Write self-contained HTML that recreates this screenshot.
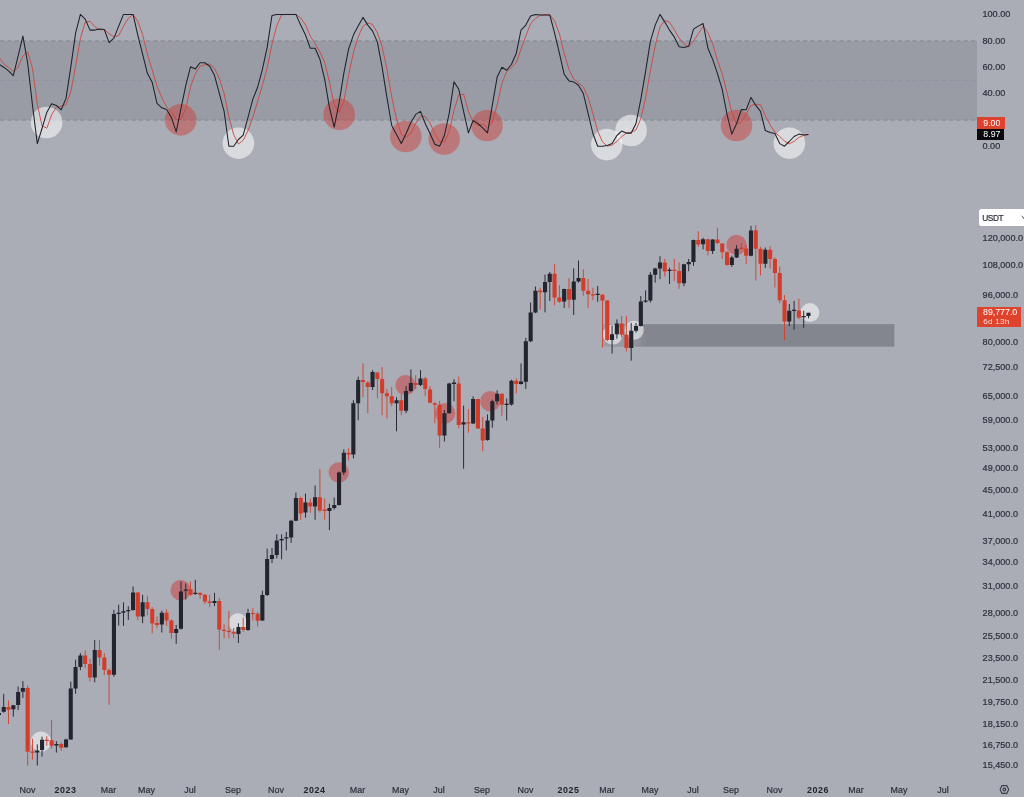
<!DOCTYPE html>
<html><head><meta charset="utf-8"><title>BTC chart</title>
<style>
html,body{margin:0;padding:0;background:#aaadb6;}
body{width:1024px;height:797px;overflow:hidden;position:relative;font-family:"Liberation Sans",sans-serif;}
svg{position:absolute;left:0;top:0;filter:blur(0.35px);}
.l{position:absolute;font-size:9.1px;-webkit-text-stroke:0.2px #2d3039;line-height:10px;height:10px;color:#2d3039;white-space:nowrap;}
.t{position:absolute;font-size:8.9px;-webkit-text-stroke:0.2px #2d3039;line-height:10px;height:10px;color:#2d3039;white-space:nowrap;transform:translateX(-50%);top:785px;}
.t b{font-weight:bold;color:#23252d;letter-spacing:0.55px;-webkit-text-stroke:0;}
.tag{position:absolute;color:#fff;font-size:8.8px;line-height:10px;white-space:nowrap;}
</style></head><body>
<div style="position:absolute;left:979.1px;top:208.8px;width:60px;height:17px;background:#fff;border-radius:2.5px;"></div>
<svg width="1024" height="797" viewBox="0 0 1024 797">

<rect x="0" y="41" width="977" height="79" fill="#999ca5"/>
<path d="M0 41H977M0 120H977" stroke="#8b8e98" stroke-width="1.3" stroke-dasharray="4.3 3" fill="none"/>
<path d="M0 80.4H977" stroke="#8b8e98" stroke-width="0.8" stroke-dasharray="4.3 3" fill="none" opacity="0.7"/>
<rect x="602.5" y="324.1" width="291.9" height="22.6" fill="#83868f"/>
<defs><linearGradient id="lg" x1="0" x2="1" y1="0" y2="0"><stop offset="0" stop-color="#fff" stop-opacity="0.2"/><stop offset="0.7" stop-color="#fff" stop-opacity="0.14"/><stop offset="1" stop-color="#fff" stop-opacity="0"/></linearGradient></defs><rect x="602.5" y="324.1" width="44" height="22.6" fill="url(#lg)"/>
<circle cx="46.6" cy="122.5" r="15.8" fill="rgba(255,255,255,0.55)"/>
<circle cx="238.4" cy="143.2" r="15.8" fill="rgba(255,255,255,0.55)"/>
<circle cx="606.8" cy="144.6" r="15.8" fill="rgba(255,255,255,0.55)"/>
<circle cx="631.1" cy="130.5" r="15.8" fill="rgba(255,255,255,0.55)"/>
<circle cx="789.4" cy="143.2" r="15.8" fill="rgba(255,255,255,0.55)"/>
<circle cx="180.7" cy="119.9" r="15.8" fill="rgba(208,58,55,0.46)"/>
<circle cx="339.2" cy="114.4" r="15.8" fill="rgba(208,58,55,0.46)"/>
<circle cx="405.8" cy="136.5" r="15.8" fill="rgba(208,58,55,0.46)"/>
<circle cx="444.2" cy="139.1" r="15.8" fill="rgba(208,58,55,0.46)"/>
<circle cx="487.1" cy="125.5" r="15.8" fill="rgba(208,58,55,0.46)"/>
<circle cx="736.5" cy="125.5" r="15.8" fill="rgba(208,58,55,0.46)"/>
<circle cx="41" cy="741.6" r="10.2" fill="rgba(255,255,255,0.55)"/>
<circle cx="237.8" cy="622.5" r="9.2" fill="rgba(255,255,255,0.55)"/>
<circle cx="612.8" cy="334.6" r="10" fill="rgba(255,255,255,0.55)"/>
<circle cx="634.2" cy="330.2" r="9.5" fill="rgba(255,255,255,0.55)"/>
<circle cx="809.9" cy="312.6" r="9.5" fill="rgba(255,255,255,0.55)"/>
<circle cx="180.6" cy="590.2" r="10.2" fill="rgba(208,52,50,0.47)"/>
<circle cx="338.8" cy="472.5" r="10.2" fill="rgba(208,52,50,0.47)"/>
<circle cx="405.5" cy="385.1" r="10.2" fill="rgba(208,52,50,0.47)"/>
<circle cx="445.2" cy="413.2" r="10.2" fill="rgba(208,52,50,0.47)"/>
<circle cx="490.3" cy="401.2" r="10.2" fill="rgba(208,52,50,0.47)"/>
<circle cx="736.5" cy="244.9" r="10.2" fill="rgba(208,52,50,0.47)"/>
<polyline points="-10.6,48.0 -5.8,54.0 -1.1,57.4 3.7,63.8 8.5,67.4 13.3,71.3 18.1,67.6 22.9,56.0 27.7,51.9 32.5,68.3 37.3,104.1 42.0,125.8 46.8,128.2 51.6,114.9 56.4,107.2 61.2,106.3 66.0,104.5 70.8,91.8 75.6,66.2 80.4,38.3 85.2,22.2 90.0,21.2 94.7,26.4 99.5,29.8 104.3,29.6 109.1,33.7 113.9,36.7 118.7,35.6 123.5,26.2 128.3,18.3 133.1,14.4 137.8,21.3 142.6,34.6 147.4,54.2 152.2,69.9 157.0,86.3 161.8,97.8 166.6,106.9 171.4,111.6 176.2,119.6 181.0,119.3 185.8,108.5 190.5,86.9 195.3,73.7 200.1,66.2 204.9,64.8 209.7,64.0 214.5,68.1 219.3,78.3 224.1,93.4 228.9,117.0 233.7,134.6 238.4,144.0 243.2,140.3 248.0,130.7 252.8,117.3 257.6,101.4 262.4,85.3 267.2,67.9 272.0,44.0 276.8,25.7 281.6,14.8 286.3,14.4 291.1,14.4 295.9,14.4 300.7,18.0 305.5,24.9 310.3,36.1 315.1,43.8 319.9,51.9 324.7,62.2 329.4,82.0 334.2,104.6 339.0,112.6 343.8,101.3 348.6,75.3 353.4,52.5 358.2,36.8 363.0,26.2 367.8,22.9 372.6,24.5 377.4,32.8 382.1,46.8 386.9,68.9 391.7,96.7 396.5,119.1 401.3,134.5 406.1,137.2 410.9,133.2 415.7,123.5 420.5,116.1 425.2,116.4 430.0,122.8 434.8,133.7 439.6,141.3 444.4,141.9 449.2,131.7 454.0,110.3 458.8,94.9 463.6,94.2 468.4,111.2 473.1,121.6 477.9,125.6 482.7,123.9 487.5,128.1 492.3,122.1 497.1,105.2 501.9,83.3 506.7,71.6 511.5,67.2 516.3,62.6 521.0,49.2 525.8,36.1 530.6,23.7 535.4,18.5 540.2,15.2 545.0,14.8 549.8,15.0 554.6,21.1 559.4,33.8 564.2,53.5 569.0,69.5 573.7,79.0 578.5,82.7 583.3,86.9 588.1,97.4 592.9,113.4 597.7,131.0 602.5,141.9 607.3,146.0 612.1,145.1 616.9,141.5 621.6,136.7 626.4,133.2 631.2,132.4 636.0,129.9 640.8,118.7 645.6,98.0 650.4,70.6 655.2,45.8 660.0,26.9 664.8,20.5 669.5,22.2 674.3,29.8 679.1,38.0 683.9,43.8 688.7,46.8 693.5,40.9 698.3,33.8 703.1,26.2 707.9,32.6 712.6,43.6 717.4,60.2 722.2,73.9 727.0,92.3 731.8,112.6 736.6,124.0 741.4,122.3 746.2,114.2 751.0,105.5 755.8,104.2 760.5,104.7 765.3,115.8 770.1,124.8 774.9,132.2 779.7,136.5 784.5,141.1 789.3,143.8 794.1,141.4 798.9,137.4 803.7,135.3 808.5,134.6" fill="none" stroke="#cc463c" stroke-width="0.9" stroke-linejoin="round"/>
<polyline points="-10.6,48.0 -5.8,60.0 -1.1,64.2 3.7,67.2 8.5,70.9 13.3,75.7 18.1,56.2 22.9,36.1 27.7,63.2 32.5,105.4 37.3,143.6 42.0,128.5 46.8,112.4 51.6,103.8 56.4,105.4 61.2,109.8 66.0,98.4 70.8,67.2 75.6,33.1 80.4,14.4 85.2,19.1 90.0,30.1 94.7,30.1 99.5,29.1 104.3,29.5 109.1,42.6 113.9,38.1 118.7,26.1 123.5,14.4 128.3,14.4 133.1,14.4 137.8,35.1 142.6,54.2 147.4,73.3 152.2,82.3 157.0,103.4 161.8,107.8 166.6,109.4 171.4,117.4 176.2,131.9 181.0,108.4 185.8,85.3 190.5,66.8 195.3,68.9 200.1,62.8 204.9,62.8 209.7,66.2 214.5,75.3 219.3,93.4 224.1,111.4 228.9,146.2 233.7,146.2 238.4,139.5 243.2,135.1 248.0,117.4 252.8,99.4 257.6,87.3 262.4,69.3 267.2,47.2 272.0,15.4 276.8,14.4 281.6,14.4 286.3,14.4 291.1,14.4 295.9,14.4 300.7,25.1 305.5,35.1 310.3,48.2 315.1,48.2 319.9,59.2 324.7,79.3 329.4,107.4 334.2,127.1 339.0,103.4 343.8,73.3 348.6,49.2 353.4,35.1 358.2,26.1 363.0,17.4 367.8,25.1 372.6,31.1 377.4,42.1 382.1,67.2 386.9,97.4 391.7,125.5 396.5,134.5 401.3,143.6 406.1,133.5 410.9,122.5 415.7,114.4 420.5,111.4 425.2,123.5 430.0,133.5 434.8,144.2 439.6,146.2 444.4,135.5 449.2,113.4 454.0,81.9 458.8,89.3 463.6,111.4 468.4,132.9 473.1,120.5 477.9,123.5 482.7,127.9 487.5,132.9 492.3,105.4 497.1,77.3 501.9,67.2 506.7,70.3 511.5,64.2 516.3,53.2 521.0,30.1 525.8,25.1 530.6,16.0 535.4,14.4 540.2,15.0 545.0,15.0 549.8,15.0 554.6,33.1 559.4,53.2 564.2,74.3 569.0,80.9 573.7,81.9 578.5,85.3 583.3,93.4 588.1,113.4 592.9,133.5 597.7,146.2 602.5,146.2 607.3,145.6 612.1,143.6 616.9,135.5 621.6,131.1 626.4,133.1 631.2,133.1 636.0,123.5 640.8,99.4 645.6,71.3 650.4,41.1 655.2,25.1 660.0,14.4 664.8,22.1 669.5,30.1 674.3,37.1 679.1,46.8 683.9,47.6 688.7,46.2 693.5,29.1 698.3,26.1 703.1,23.5 707.9,48.2 712.6,59.2 717.4,73.3 722.2,89.3 727.0,114.4 731.8,134.1 736.6,123.5 741.4,109.4 746.2,109.8 751.0,97.4 755.8,105.4 760.5,111.4 765.3,130.5 770.1,132.5 774.9,133.5 779.7,143.6 784.5,146.2 789.3,141.5 794.1,136.5 798.9,134.1 803.7,135.1 808.5,134.5" fill="none" stroke="#1f2129" stroke-width="1.05" stroke-linejoin="round"/>
<path d="M8.5 700.4V724.0M27.7 685.7V765.6M32.5 738.7V759.6M46.8 736.2V745.7M51.6 719.9V748.5M61.2 742.4V750.9M85.2 650.3V668.2M90.0 658.8V681.4M99.5 640.0V665.4M104.3 653.2V675.2M109.1 668.2V704.9M137.8 592.0V620.2M147.4 595.8V615.5M152.2 607.1V633.4M157.0 616.5V627.8M166.6 609.3V625.9M171.4 619.3V638.7M190.5 581.6V595.8M200.1 592.0V598.6M204.9 593.9V604.2M209.7 594.8V607.1M219.3 597.9V649.6M224.1 624.2V638.3M228.9 611.0V638.3M233.7 628.0V638.3M243.2 617.6V631.8M252.8 608.2V620.5M257.6 612.0V626.5M300.7 496.6V519.7M310.3 498.6V512.6M319.9 469.1V512.6M324.7 498.6V519.7M348.6 448.4V460.4M363.0 363.4V397.2M367.8 381.1V413.2M377.4 372.1V398.2M382.1 367.0V415.2M386.9 389.1V418.3M391.7 387.1V406.2M401.3 394.2V415.2M415.7 375.1V389.1M425.2 377.1V396.2M430.0 386.1V403.2M434.8 402.2V423.3M439.6 400.9V447.8M458.8 376.6V428.4M468.4 409.1V432.8M477.9 398.6V429.0M482.7 417.0V451.3M501.9 393.3V416.1M516.3 378.4V393.3M540.2 287.8V309.7M554.6 264.1V305.3M559.4 285.1V302.7M569.0 278.1V308.0M583.3 269.3V295.7M588.1 279.0V308.0M592.9 287.8V300.1M602.5 293.9V347.5M607.3 300.1V341.3M621.6 315.9V337.8M626.4 315.9V351.5M664.8 258.9V276.5M674.3 258.9V280.9M679.1 262.4V288.8M698.3 231.2V247.0M707.9 238.7V255.4M717.4 227.6V244.0M722.2 243.1V258.9M727.0 251.0V265.9M741.4 243.1V249.3M746.2 244.9V264.2M755.8 225.0V280.7M760.5 246.8V275.4M770.1 246.1V268.7M774.9 257.4V287.5M779.7 266.4V303.3M784.5 295.0V340.2M798.9 298.8V319.1" stroke="#d23d2b" stroke-width="0.9" fill="none"/>
<path d="M-1.1 711.8V715.9M3.7 693.8V712.6M13.3 704.9V716.7M18.1 686.5V710.1M22.9 681.1V697.9M37.3 744.4V765.6M42.0 736.7V756.6M56.4 741.1V752.6M66.0 738.7V747.7M70.8 681.6V739.8M75.6 659.6V693.8M80.4 653.1V670.2M94.7 640.0V682.3M113.9 609.9V676.7M118.7 604.8V625.5M123.5 602.3V625.9M128.3 606.1V619.9M133.1 586.4V610.8M142.6 594.8V623.1M161.8 610.8V632.5M176.2 624.9V643.8M181.0 581.6V629.6M185.8 583.5V599.5M195.3 579.8V594.8M214.5 592.9V606.1M238.4 623.3V643.0M248.0 608.8V630.8M262.4 590.7V620.8M267.2 548.6V596.0M272.0 548.0V563.1M276.8 534.3V558.3M281.6 534.3V559.3M286.3 532.0V550.4M291.1 519.8V542.9M295.9 492.5V521.1M305.5 493.6V517.7M315.1 485.5V519.7M329.4 503.6V530.1M334.2 497.6V509.6M339.0 471.5V505.6M343.8 449.4V475.1M353.4 400.2V458.4M358.2 376.7V420.3M372.6 370.1V390.1M396.5 397.2V431.3M406.1 386.1V413.2M410.9 369.5V392.1M420.5 370.1V386.1M444.4 410.0V441.6M449.2 382.8V413.5M454.0 379.3V401.2M463.6 405.6V468.8M473.1 396.3V424.0M487.5 414.4V440.7M492.3 399.8V427.6M497.1 390.3V404.7M506.7 398.6V420.5M511.5 379.8V405.6M521.0 363.4V384.5M525.8 337.8V388.8M530.6 302.7V342.2M535.4 286.5V313.2M545.0 274.6V312.4M549.8 272.0V300.9M564.2 288.6V308.0M573.7 268.4V315.0M578.5 260.5V282.5M597.7 286.0V301.8M612.1 325.5V353.6M616.9 319.4V338.7M631.2 322.9V360.7M636.0 322.9V332.6M640.8 296.0V326.4M645.6 290.4V302.7M650.4 272.1V302.5M655.2 267.7V282.6M660.0 256.3V279.1M669.5 267.7V283.9M683.9 263.8V286.1M688.7 258.9V271.2M693.5 239.6V265.9M703.1 237.8V249.3M712.6 239.2V254.0M731.8 255.8V266.8M736.6 245.2V258.0M751.0 225.9V256.3M765.3 247.6V267.9M789.3 304.0V326.2M794.1 301.0V329.6M803.7 310.8V327.8M808.5 312.8V318.3" stroke="#22242e" stroke-width="0.95" fill="none"/>
<path d="M6.5 706.9h4.1V709.8h-4.1zM25.6 688.1h4.1V751.7h-4.1zM30.4 751.6h4.1V752.8h-4.1zM44.8 739.7h4.1V740.9h-4.1zM49.6 740.3h4.1V745.7h-4.1zM59.2 743.9h4.1V747.7h-4.1zM83.1 655.6h4.1V663.9h-4.1zM87.9 663.9h4.1V677.6h-4.1zM97.5 650.0h4.1V657.5h-4.1zM102.3 657.5h4.1V670.1h-4.1zM107.1 670.1h4.1V674.8h-4.1zM135.8 592.4h4.1V616.5h-4.1zM145.4 602.3h4.1V608.9h-4.1zM150.2 608.9h4.1V623.6h-4.1zM155.0 623.1h4.1V624.9h-4.1zM164.5 612.7h4.1V620.6h-4.1zM169.3 620.6h4.1V633.0h-4.1zM188.5 589.2h4.1V594.8h-4.1zM198.1 592.9h4.1V594.8h-4.1zM202.9 594.8h4.1V601.4h-4.1zM207.6 601.4h4.1V602.9h-4.1zM217.2 601.1h4.1V629.5h-4.1zM222.0 629.8h4.1V631.0h-4.1zM226.8 630.8h4.1V632.1h-4.1zM231.6 632.1h4.1V633.6h-4.1zM241.2 627.0h4.1V629.9h-4.1zM250.8 612.9h4.1V614.1h-4.1zM255.6 613.7h4.1V620.8h-4.1zM298.7 498.0h4.1V513.6h-4.1zM308.2 502.6h4.1V506.6h-4.1zM317.8 497.2h4.1V510.6h-4.1zM322.6 509.6h4.1V511.0h-4.1zM346.6 452.8h4.1V454.4h-4.1zM360.9 380.1h4.1V382.1h-4.1zM365.7 382.5h4.1V387.1h-4.1zM375.3 372.5h4.1V379.1h-4.1zM380.1 379.1h4.1V393.2h-4.1zM384.9 393.2h4.1V396.2h-4.1zM389.7 396.2h4.1V403.2h-4.1zM399.2 400.2h4.1V410.8h-4.1zM413.6 383.1h4.1V385.1h-4.1zM423.2 378.5h4.1V389.1h-4.1zM428.0 389.5h4.1V402.8h-4.1zM432.8 403.2h4.1V404.8h-4.1zM437.6 404.7h4.1V435.5h-4.1zM456.7 383.6h4.1V424.9h-4.1zM466.3 422.3h4.1V423.5h-4.1zM475.9 399.1h4.1V428.4h-4.1zM480.7 428.4h4.1V440.4h-4.1zM499.8 393.8h4.1V404.7h-4.1zM514.2 380.7h4.1V384.0h-4.1zM538.2 290.4h4.1V292.2h-4.1zM552.5 273.7h4.1V297.4h-4.1zM557.3 297.4h4.1V301.8h-4.1zM566.9 289.0h4.1V299.7h-4.1zM581.3 278.1h4.1V290.8h-4.1zM586.1 290.8h4.1V294.3h-4.1zM590.9 294.2h4.1V295.4h-4.1zM600.4 294.8h4.1V300.4h-4.1zM605.2 300.4h4.1V340.1h-4.1zM619.6 323.4h4.1V334.8h-4.1zM624.4 334.8h4.1V348.0h-4.1zM662.7 262.4h4.1V271.6h-4.1zM672.3 269.7h4.1V270.9h-4.1zM677.1 270.9h4.1V283.2h-4.1zM696.2 239.9h4.1V244.5h-4.1zM705.8 239.2h4.1V251.0h-4.1zM715.4 239.6h4.1V243.1h-4.1zM720.2 243.5h4.1V252.2h-4.1zM725.0 252.2h4.1V265.1h-4.1zM739.3 247.8h4.1V249.0h-4.1zM744.1 248.4h4.1V255.8h-4.1zM753.7 230.3h4.1V248.8h-4.1zM758.5 248.8h4.1V263.8h-4.1zM768.1 249.8h4.1V258.9h-4.1zM772.9 258.9h4.1V272.9h-4.1zM777.7 272.9h4.1V300.3h-4.1zM782.5 300.3h4.1V321.4h-4.1zM796.8 310.4h4.1V317.6h-4.1z" fill="#d23d2b"/>
<path d="M-3.1 713.1h4.1V715.0h-4.1zM1.7 706.9h4.1V711.8h-4.1zM11.3 705.3h4.1V709.3h-4.1zM16.1 691.9h4.1V704.9h-4.1zM20.8 688.1h4.1V691.7h-4.1zM35.2 750.4h4.1V752.6h-4.1zM40.0 739.8h4.1V750.1h-4.1zM54.4 743.9h4.1V745.4h-4.1zM64.0 739.5h4.1V747.3h-4.1zM68.7 688.5h4.1V739.5h-4.1zM73.5 666.9h4.1V688.5h-4.1zM78.3 655.5h4.1V666.9h-4.1zM92.7 650.0h4.1V677.6h-4.1zM111.9 614.0h4.1V674.8h-4.1zM116.6 612.7h4.1V614.0h-4.1zM121.4 611.2h4.1V612.7h-4.1zM126.2 609.9h4.1V611.2h-4.1zM131.0 592.4h4.1V609.9h-4.1zM140.6 602.3h4.1V616.5h-4.1zM159.8 612.7h4.1V624.6h-4.1zM174.1 629.1h4.1V633.0h-4.1zM178.9 591.4h4.1V628.7h-4.1zM183.7 589.6h4.1V590.8h-4.1zM193.3 592.8h4.1V594.0h-4.1zM212.4 601.0h4.1V602.9h-4.1zM236.4 627.0h4.1V634.0h-4.1zM246.0 612.9h4.1V629.9h-4.1zM260.3 595.0h4.1V620.5h-4.1zM265.1 558.9h4.1V595.0h-4.1zM269.9 555.1h4.1V558.9h-4.1zM274.7 540.5h4.1V555.1h-4.1zM279.5 539.0h4.1V540.5h-4.1zM284.3 537.3h4.1V538.6h-4.1zM289.1 520.7h4.1V537.6h-4.1zM293.9 497.9h4.1V520.7h-4.1zM303.4 502.6h4.1V512.6h-4.1zM313.0 497.2h4.1V506.6h-4.1zM327.4 508.0h4.1V511.0h-4.1zM332.2 505.0h4.1V508.0h-4.1zM337.0 472.5h4.1V505.0h-4.1zM341.8 452.8h4.1V472.5h-4.1zM351.3 403.2h4.1V454.4h-4.1zM356.1 380.1h4.1V403.2h-4.1zM370.5 372.1h4.1V387.1h-4.1zM394.5 400.2h4.1V403.2h-4.1zM404.0 391.1h4.1V410.8h-4.1zM408.8 383.1h4.1V391.1h-4.1zM418.4 378.5h4.1V385.1h-4.1zM442.4 413.2h4.1V435.5h-4.1zM447.1 383.6h4.1V413.2h-4.1zM451.9 382.4h4.1V384.0h-4.1zM461.5 422.3h4.1V424.4h-4.1zM471.1 399.1h4.1V423.5h-4.1zM485.5 420.5h4.1V440.0h-4.1zM490.3 401.2h4.1V420.5h-4.1zM495.1 393.8h4.1V401.2h-4.1zM504.6 403.7h4.1V404.9h-4.1zM509.4 380.7h4.1V404.4h-4.1zM519.0 381.4h4.1V384.0h-4.1zM523.8 341.3h4.1V381.7h-4.1zM528.6 312.4h4.1V341.3h-4.1zM533.4 290.8h4.1V312.4h-4.1zM543.0 282.1h4.1V292.2h-4.1zM547.7 273.7h4.1V282.1h-4.1zM562.1 289.0h4.1V301.5h-4.1zM571.7 281.6h4.1V299.7h-4.1zM576.5 278.1h4.1V281.6h-4.1zM595.6 293.8h4.1V295.0h-4.1zM610.0 334.3h4.1V340.1h-4.1zM614.8 323.4h4.1V334.3h-4.1zM629.2 330.8h4.1V348.0h-4.1zM634.0 325.9h4.1V330.8h-4.1zM638.8 301.5h4.1V325.9h-4.1zM643.5 300.4h4.1V301.8h-4.1zM648.3 274.7h4.1V300.5h-4.1zM653.1 268.6h4.1V274.7h-4.1zM657.9 262.4h4.1V268.6h-4.1zM667.5 269.7h4.1V270.9h-4.1zM681.9 264.2h4.1V283.2h-4.1zM686.7 262.1h4.1V264.2h-4.1zM691.4 239.9h4.1V262.1h-4.1zM701.0 239.2h4.1V244.2h-4.1zM710.6 239.6h4.1V251.0h-4.1zM729.8 257.5h4.1V265.1h-4.1zM734.6 248.7h4.1V257.5h-4.1zM748.9 230.5h4.1V255.8h-4.1zM763.3 249.8h4.1V263.8h-4.1zM787.2 310.8h4.1V321.4h-4.1zM792.0 309.8h4.1V311.0h-4.1zM801.6 316.1h4.1V317.3h-4.1zM806.4 312.8h4.1V316.1h-4.1z" fill="#22242e"/>
<g transform="translate(1004.4,789.5)" fill="none" stroke="#3a3d46" stroke-width="1.1"><path d="M-2.4 -3.9H2.4L4.3 0L2.4 3.9H-2.4L-4.3 0Z" stroke-linejoin="round"/><circle r="1.4"/></g>
<path d="M1021.7 216.1l2.3 2.3l2.3-2.3" fill="none" stroke="#33363f" stroke-width="1"/>
</svg>
<div class="l" style="left:982.5px;top:9.0px">100.00</div>
<div class="l" style="left:982.5px;top:35.5px">80.00</div>
<div class="l" style="left:982.5px;top:61.7px">60.00</div>
<div class="l" style="left:982.5px;top:88.3px">40.00</div>
<div class="l" style="left:982.5px;top:141.1px">0.00</div>
<div class="l" style="left:982.6px;top:232.7px">120,000.0</div>
<div class="l" style="left:982.6px;top:259.8px">108,000.0</div>
<div class="l" style="left:982.6px;top:290.0px">96,000.0</div>
<div class="l" style="left:982.6px;top:337.4px">80,000.0</div>
<div class="l" style="left:982.6px;top:362.0px">72,500.0</div>
<div class="l" style="left:982.6px;top:390.5px">65,000.0</div>
<div class="l" style="left:982.6px;top:415.1px">59,000.0</div>
<div class="l" style="left:982.6px;top:442.7px">53,000.0</div>
<div class="l" style="left:982.6px;top:463.0px">49,000.0</div>
<div class="l" style="left:982.6px;top:485.0px">45,000.0</div>
<div class="l" style="left:982.6px;top:509.3px">41,000.0</div>
<div class="l" style="left:982.6px;top:535.7px">37,000.0</div>
<div class="l" style="left:982.6px;top:557.3px">34,000.0</div>
<div class="l" style="left:982.6px;top:581.2px">31,000.0</div>
<div class="l" style="left:982.6px;top:607.6px">28,000.0</div>
<div class="l" style="left:982.6px;top:631.4px">25,500.0</div>
<div class="l" style="left:982.6px;top:652.5px">23,500.0</div>
<div class="l" style="left:982.6px;top:675.2px">21,500.0</div>
<div class="l" style="left:982.6px;top:697.3px">19,750.0</div>
<div class="l" style="left:982.6px;top:719.4px">18,150.0</div>
<div class="l" style="left:982.6px;top:739.7px">16,750.0</div>
<div class="l" style="left:982.6px;top:760.3px">15,450.0</div>
<div class="l" style="left:982.3px;top:212.9px;color:#2a2d36;font-size:8.3px;letter-spacing:-0.45px">USDT</div>
<div class="tag" style="left:977.1px;top:117.4px;width:28px;height:11.6px;background:#de412d;"><span style="position:absolute;left:6.2px;top:0.4px">9.00</span></div>
<div class="tag" style="left:977.3px;top:129px;width:26.8px;height:10.7px;background:#0a0a0c;"><span style="position:absolute;left:6px;top:0.1px">8.97</span></div>
<div class="tag" style="left:977.1px;top:307.2px;width:44.1px;height:20.3px;background:#de442d;"><span style="position:absolute;left:5.9px;top:0.2px">89,777.0</span><span style="position:absolute;left:6.1px;top:10.1px;opacity:.82;font-size:8px;letter-spacing:0.3px">6d 13h</span></div>
<div class="t" style="left:27.5px">Nov</div>
<div class="t" style="left:65.5px"><b>2023</b></div>
<div class="t" style="left:108.5px">Mar</div>
<div class="t" style="left:146.5px">May</div>
<div class="t" style="left:190px">Jul</div>
<div class="t" style="left:233px">Sep</div>
<div class="t" style="left:276px">Nov</div>
<div class="t" style="left:314.5px"><b>2024</b></div>
<div class="t" style="left:357.5px">Mar</div>
<div class="t" style="left:400.5px">May</div>
<div class="t" style="left:439px">Jul</div>
<div class="t" style="left:482px">Sep</div>
<div class="t" style="left:525.5px">Nov</div>
<div class="t" style="left:568.5px"><b>2025</b></div>
<div class="t" style="left:607px">Mar</div>
<div class="t" style="left:650px">May</div>
<div class="t" style="left:693px">Jul</div>
<div class="t" style="left:731px">Sep</div>
<div class="t" style="left:774.5px">Nov</div>
<div class="t" style="left:818px"><b>2026</b></div>
<div class="t" style="left:856px">Mar</div>
<div class="t" style="left:899px">May</div>
<div class="t" style="left:943px">Jul</div>
</body></html>
